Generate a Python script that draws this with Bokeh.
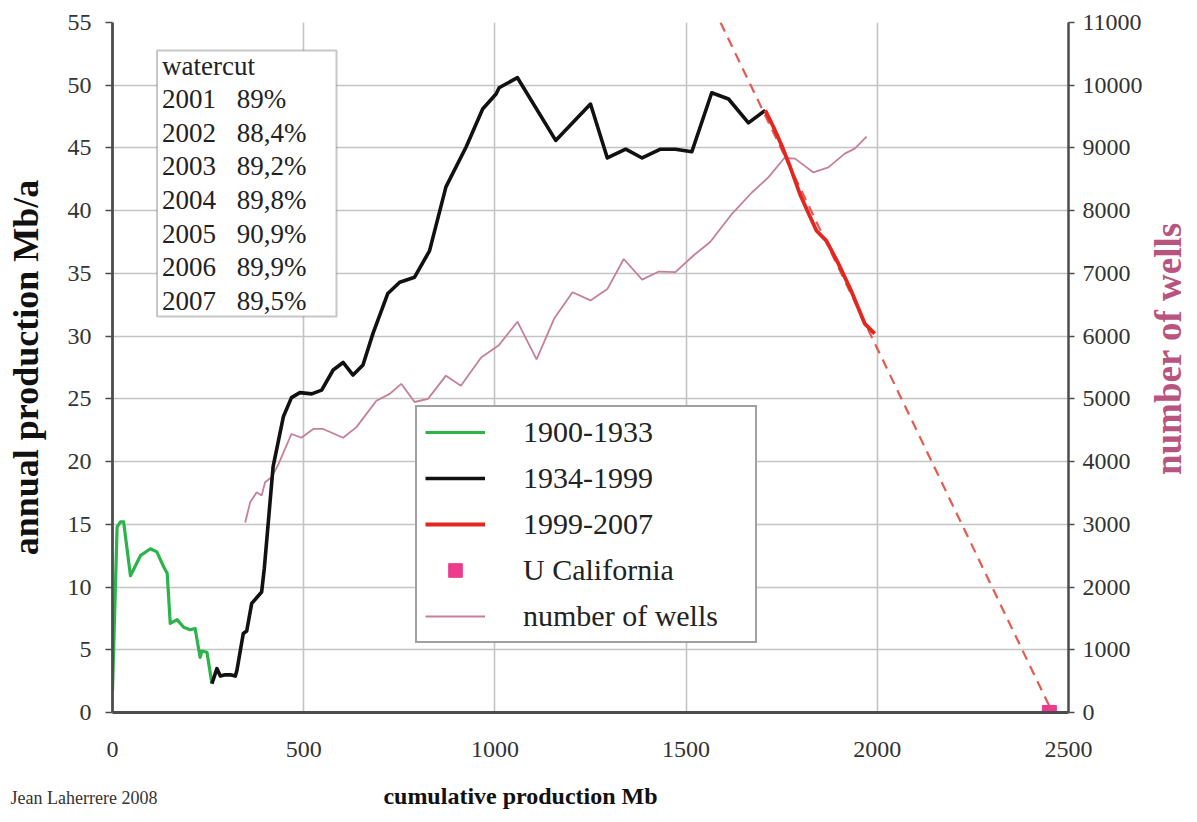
import math
from bokeh.plotting import figure
from bokeh.layouts import row, column
from bokeh.models import (Range1d, LinearAxis, FixedTicker, Legend, LegendItem,
                          BoxAnnotation, Label)
from bokeh.core.properties import value
from bokeh.embed import file_html
from bokeh.resources import INLINE

# ---- data ----
cum_1900 = [0, 12, 21, 29, 47, 73, 99, 116, 134, 143, 151, 169, 186, 203, 216, 229, 234, 247, 260]
prod_1900 = [1.75, 14.8, 15.2, 15.2, 10.9, 12.5, 13.05, 12.8, 11.6, 11.1, 7.1, 7.4, 6.8, 6.6, 6.7, 4.4, 4.9, 4.8, 2.3]

cum_1934 = [260, 273, 282, 295, 308, 321, 325, 342, 351, 364, 390, 397, 420, 447, 468, 490, 521, 547, 577, 603,
            629, 655, 681, 720, 751, 790, 829, 872, 925, 968, 1003, 1011, 1059, 1159, 1250, 1294, 1342, 1385, 1433, 1472,
            1515, 1567, 1611, 1663, 1707]
prod_1934 = [2.3, 3.5, 2.9, 3.0, 3.0, 2.9, 3.3, 6.3, 6.5, 8.7, 9.6, 11.5, 19.6, 23.6, 25.1, 25.5, 25.4, 25.7, 27.3, 27.9,
             26.9, 27.7, 30.2, 33.4, 34.3, 34.7, 36.8, 41.9, 45.1, 48.1, 49.3, 49.8, 50.6, 45.6, 48.5, 44.2, 44.9, 44.2, 44.9, 44.9,
             44.7, 49.4, 48.9, 47.0, 48.0]

cum_1999 = [1707, 1728, 1750, 1772, 1798, 1820, 1841, 1867, 1898, 1932, 1967, 1993]
prod_1999 = [48.0, 46.7, 45.2, 43.5, 41.3, 39.8, 38.4, 37.6, 35.8, 33.6, 31.0, 30.2]

trend_cum = [1590, 2450]
trend_prod = [55, 0.5]

u_cum = [2450]
u_prod = [0]

cum_wells = [347, 360, 377, 390, 399, 416, 434, 468, 494, 525, 551, 603, 638, 690, 725, 755, 790, 825, 872, 911,
             964, 1011, 1059, 1109, 1155, 1203, 1250, 1294, 1337, 1385, 1429, 1472, 1520, 1563, 1620, 1672, 1715, 1757, 1785, 1833,
             1872, 1915, 1941, 1972]
wells = [3030, 3350, 3510, 3460, 3670, 3750, 3960, 4440, 4380, 4520, 4520, 4380, 4550, 4970, 5080, 5240, 4950, 5000, 5370, 5210,
         5660, 5860, 6230, 5630, 6280, 6700, 6570, 6750, 7230, 6900, 7030, 7020, 7290, 7500, 7950, 8290, 8530, 8840, 8830, 8610,
         8690, 8910, 8990, 9180]

x_ticks = [0, 500, 1000, 1500, 2000, 2500]
y_ticks = list(range(0, 56, 5))
w_ticks = list(range(0, 11001, 1000))

wc_title = "watercut"
wc_years = ["2001", "2002", "2003", "2004", "2005", "2006", "2007"]
wc_values = ["89%", "88,4%", "89,2%", "89,8%", "90,9%", "89,9%", "89,5%"]

x_title = "cumulative production Mb"
left_title = "annual production Mb/a"
right_title = "number of wells"
credit = "Jean Laherrere 2008"

FONT = "Liberation Serif"
AX = "#4d4d4d"
TXT = "#333333"

MAIN_W, MAIN_H = 1145, 768
SIDE_W = 50
BOT_H = 44
TOTAL_W = MAIN_W + SIDE_W

p = figure(width=MAIN_W, height=MAIN_H, output_backend="svg", toolbar_location=None,
           x_range=Range1d(0, 2500), y_range=Range1d(0, 55),
           min_border_left=112, min_border_right=MAIN_W - 1071, min_border_top=22,
           min_border_bottom=MAIN_H - 712)
p.outline_line_color = None
p.background_fill_color = "white"
p.border_fill_color = "white"
p.extra_y_ranges = {"wells": Range1d(0, 11000)}

# axes
p.xaxis.ticker = FixedTicker(ticks=x_ticks)
p.yaxis.ticker = FixedTicker(ticks=y_ticks)
for ax in (p.xaxis[0], p.yaxis[0]):
    ax.axis_line_color = AX
    ax.axis_line_width = 2.8
    ax.major_tick_line_color = AX
    ax.major_tick_line_width = 1.5
    ax.minor_tick_line_color = None
    ax.major_label_text_font = FONT
    ax.major_label_text_font_size = "24px"
    ax.major_label_text_color = TXT
p.xaxis.major_tick_out = 0
p.xaxis.major_tick_in = 0
p.xaxis.major_label_standoff = 29
p.yaxis.major_tick_out = 7
p.yaxis.major_tick_in = 0
p.yaxis.major_label_standoff = 14
p.yaxis.axis_label = left_title
p.yaxis.axis_label_text_font = FONT
p.yaxis.axis_label_text_font_style = "bold"
p.yaxis.axis_label_text_font_size = "36px"
p.yaxis.axis_label_text_color = "#111111"
p.yaxis.axis_label_standoff = 19

ra = LinearAxis(y_range_name="wells", ticker=FixedTicker(ticks=w_ticks))
ra.axis_line_color = AX
ra.axis_line_width = 2.5
ra.major_tick_line_color = AX
ra.major_tick_line_width = 1.5
ra.major_tick_out = 6
ra.major_tick_in = 0
ra.minor_tick_line_color = None
ra.major_label_text_font = FONT
ra.major_label_text_font_size = "24px"
ra.major_label_text_color = TXT
ra.major_label_standoff = 8
p.add_layout(ra, "right")

# grid
p.xgrid.ticker = FixedTicker(ticks=x_ticks)
p.ygrid.ticker = FixedTicker(ticks=y_ticks)
for g in (p.xgrid[0], p.ygrid[0]):
    g.grid_line_color = "#c4c4c4"
    g.grid_line_width = 1.6

# series
r_wells = p.line(cum_wells, wells, y_range_name="wells", line_color="#c57f9c", line_width=1.8)
p.line(trend_cum, trend_prod, line_color="#e55a50", line_width=2.2, line_dash="10 7")
r_green = p.line(cum_1900, prod_1900, line_color="#2bb44a", line_width=3.2, line_join="round")
r_black = p.line(cum_1934, prod_1934, line_color="#111111", line_width=3.6, line_join="round")
r_red = p.line(cum_1999, prod_1999, line_color="#e3261f", line_width=3.8, line_join="round")
r_u = p.scatter(u_cum, u_prod, marker="square", size=14, fill_color="#ee3a8c", line_color="#ee3a8c")

# watercut box
box = BoxAnnotation(left=116.5, right=585.8, top=52.77, bottom=31.57,
                    fill_color="white", fill_alpha=1.0, line_color="#444444", line_width=2,
                    level="underlay")
p.add_layout(box)
y0 = 51.57
step = 2.68
p.add_layout(Label(x=129.6, y=y0, text=wc_title, text_font=FONT, text_font_size="27px",
                   text_color="#222222", text_baseline="middle"))
for i, (yr, v) in enumerate(zip(wc_years, wc_values)):
    yy = y0 - step * (i + 1)
    p.add_layout(Label(x=129.6, y=yy, text=yr, text_font=FONT, text_font_size="27px",
                       text_color="#222222", text_baseline="middle"))
    p.add_layout(Label(x=325, y=yy, text=v, text_font=FONT, text_font_size="27px",
                       text_color="#222222", text_baseline="middle"))

# legend
legend = Legend(items=[
    LegendItem(label="1900-1933", renderers=[r_green]),
    LegendItem(label="1934-1999", renderers=[r_black]),
    LegendItem(label="1999-2007", renderers=[r_red]),
    LegendItem(label="U California", renderers=[r_u]),
    LegendItem(label="number of wells", renderers=[r_wells]),
], location=(303, 69))
legend.label_text_font = FONT
legend.label_text_font_size = "30px"
legend.label_text_color = "#222222"
legend.border_line_color = "#444444"
legend.border_line_width = 2
legend.background_fill_color = "white"
legend.background_fill_alpha = 1.0
legend.padding = 8
legend.margin = 0
legend.spacing = 12
legend.glyph_width = 60
legend.glyph_height = 34
legend.label_height = 34
legend.label_standoff = 38
legend.label_width = 224
p.add_layout(legend, "center")


def blank(w, h, xr, yr):
    f = figure(width=w, height=h, output_backend="svg", toolbar_location=None,
               x_range=Range1d(*xr), y_range=Range1d(*yr),
               x_axis_type=None, y_axis_type=None,
               min_border_left=0, min_border_right=0, min_border_top=0, min_border_bottom=0)
    f.outline_line_color = None
    f.grid.visible = False
    f.background_fill_color = "white"
    f.border_fill_color = "white"
    return f


# right-hand title panel (pixel coordinates, y measured downward)
pr = blank(SIDE_W, MAIN_H, (0, SIDE_W), (MAIN_H, 0))
pr.text(x=[23], y=[363], text=[right_title], angle=math.pi / 2,
        text_font=value(FONT), text_font_size="37px", text_font_style="bold",
        text_color="#b8557f", text_align="center", text_baseline="middle")

# bottom panel
pb = blank(TOTAL_W, BOT_H, (0, TOTAL_W), (BOT_H, 0))
pb.text(x=[520], y=[27], text=[x_title], text_font=value(FONT), text_font_size="24px",
        text_font_style="bold", text_color="#111111", text_align="center", text_baseline="middle")
pb.text(x=[10], y=[29], text=[credit], text_font=value(FONT), text_font_size="18px",
        text_color="#333333", text_align="left", text_baseline="middle")

layout = column(row(p, pr, spacing=0), pb, spacing=0)
open("out.html", "w").write(file_html(layout, INLINE))
